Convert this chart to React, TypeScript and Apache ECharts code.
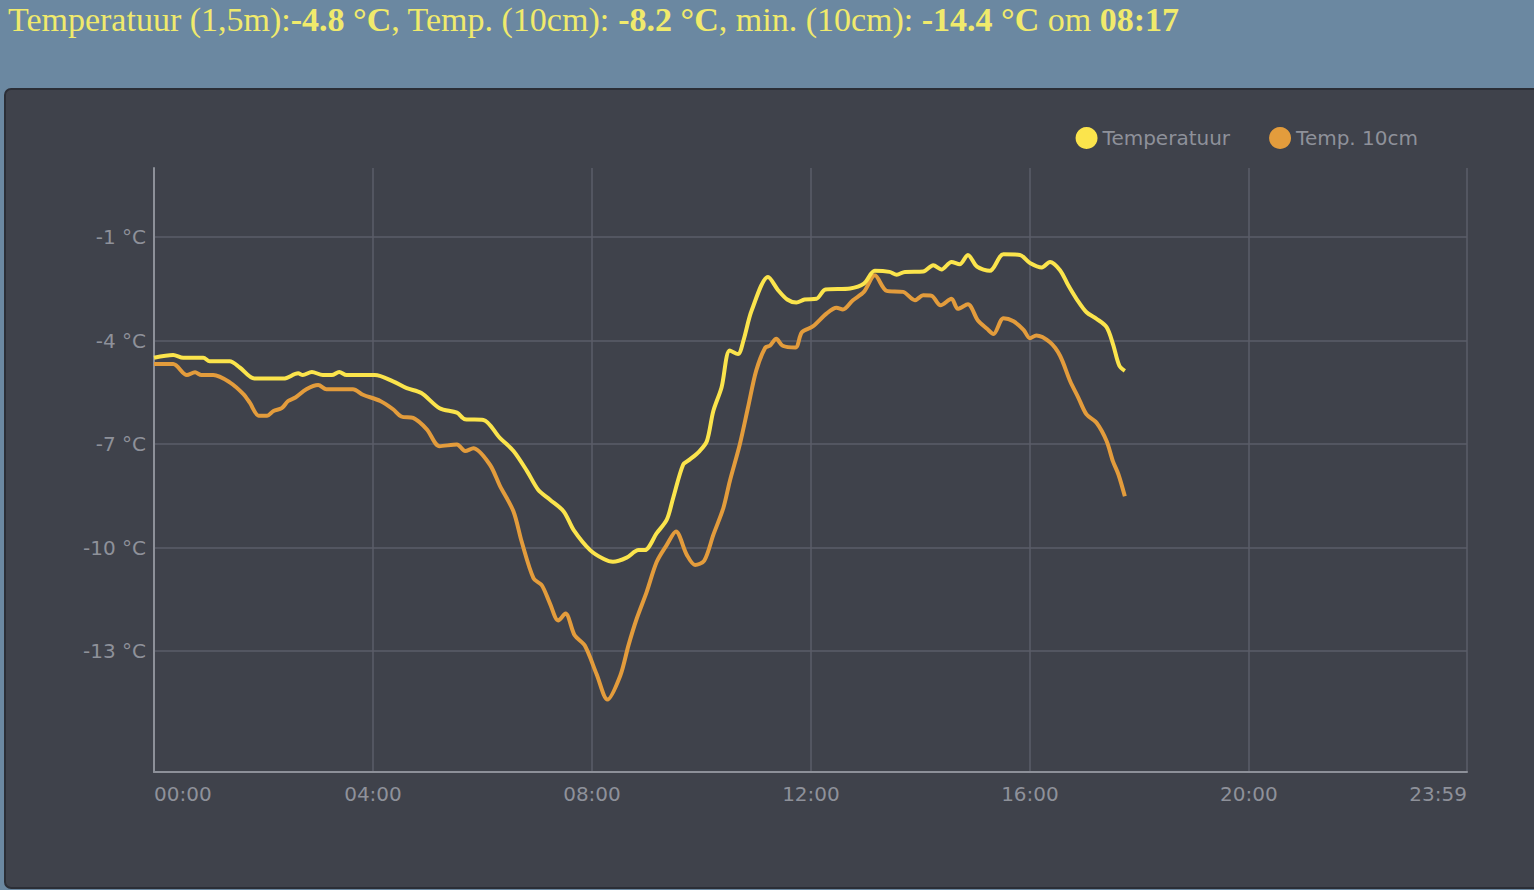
import React, { useEffect, useRef } from "react";
import * as echarts from "echarts";

// ---- data ----
const tempTimes = [
  "00:00","00:21","00:32","00:54","01:01","01:23","01:34","01:50","02:22","02:38","02:43","02:53","03:05","03:15","03:23","03:31",
  "04:02","04:22","04:37","04:53","05:13","05:32","05:41","06:01","06:19","06:34","06:49","07:01","07:14","07:29","07:40","07:58",
  "08:13","08:23","08:38","08:51","08:58","09:11","09:22","09:29","09:40","09:47","09:58","10:06","10:13","10:22","10:31","10:40",
  "10:46","10:55","11:13","11:24","11:34","11:44","11:53","12:06","12:16","12:43","12:58","13:10","13:26","13:34","13:43","14:03",
  "14:14","14:23","14:34","14:43","14:52","15:02","15:16","15:31","15:49","16:00","16:13","16:22","16:33","16:42","16:51","17:02",
  "17:13","17:24","17:31","17:38","17:44",
];
const tempValues = [
  -4.5,-4.42,-4.5,-4.5,-4.6,-4.6,-4.78,-5.1,-5.1,-4.95,-5.0,-4.91,-5.0,-5.0,-4.91,-5.0,
  -5.0,-5.18,-5.38,-5.52,-5.96,-6.09,-6.28,-6.3,-6.82,-7.2,-7.79,-8.32,-8.61,-8.95,-9.49,-10.07,
  -10.33,-10.41,-10.29,-10.07,-10.07,-9.58,-9.19,-8.56,-7.59,-7.45,-7.2,-6.91,-6.04,-5.36,-4.29,-4.39,
  -4.0,-3.13,-2.16,-2.54,-2.81,-2.9,-2.81,-2.79,-2.52,-2.49,-2.35,-1.98,-2.01,-2.09,-2.01,-2.0,
  -1.82,-1.94,-1.72,-1.79,-1.52,-1.86,-1.98,-1.5,-1.52,-1.75,-1.88,-1.72,-1.96,-2.4,-2.79,-3.18,
  -3.37,-3.61,-4.1,-4.73,-4.88,
];

const soilTimes = [
  "00:00","00:21","00:36","00:45","00:52","01:05","01:23","01:38","01:45","01:55","02:04","02:11","02:20","02:27","02:35","02:47",
  "03:00","03:09","03:38","03:49","04:08","04:22","04:31","04:44","04:59","05:13","05:32","05:41","05:50","06:08","06:19","06:34",
  "06:43","06:56","07:05","07:14","07:23","07:31","07:41","07:52","08:05","08:17","08:31","08:40","08:49","09:00","09:11","09:22",
  "09:32","09:44","09:53","10:03","10:13","10:24","10:31","10:42","10:51","11:00","11:10","11:15","11:22","11:29","11:43","11:50",
  "12:02","12:17","12:28","12:35","12:46","12:58","13:10","13:23","13:41","13:54","14:03","14:12","14:22","14:34","14:41","14:52",
  "15:03","15:13","15:20","15:31","15:42","15:53","16:00","16:07","16:22","16:33","16:44","16:53","17:02","17:13","17:24","17:31",
  "17:37","17:44",
];
const soilValues = [
  -4.68,-4.68,-5.0,-4.92,-5.0,-5.0,-5.21,-5.55,-5.8,-6.18,-6.18,-6.04,-5.96,-5.75,-5.65,-5.41,
  -5.29,-5.41,-5.41,-5.57,-5.75,-5.99,-6.2,-6.24,-6.57,-7.06,-7.01,-7.2,-7.12,-7.59,-8.2,-8.95,
  -9.83,-10.89,-11.09,-11.62,-12.11,-11.91,-12.54,-12.83,-13.66,-14.4,-13.71,-12.83,-12.06,-11.28,-10.41,-9.92,
  -9.53,-10.21,-10.5,-10.38,-9.63,-8.85,-8.08,-7.01,-5.94,-4.87,-4.2,-4.15,-3.95,-4.15,-4.2,-3.76,
  -3.59,-3.22,-3.05,-3.1,-2.83,-2.59,-2.11,-2.56,-2.59,-2.83,-2.69,-2.7,-2.98,-2.79,-3.08,-2.95,
  -3.42,-3.66,-3.81,-3.35,-3.44,-3.69,-3.93,-3.85,-4.05,-4.44,-5.17,-5.65,-6.14,-6.38,-6.91,-7.5,
  -7.88,-8.51,
];

const seriesNames = ["Temperatuur", "Temp. 10cm"];
const yTicks = [-13, -10, -7, -4, -1];
const xTickStep = 240; // minutes
const xMax = 1439; // 23:59

const headerTemp = "-4.8";
const headerSoil = "-8.2";
const headerMin = "-14.4";
const headerMinTime = "08:17";

const toMin = (s: string) => {
  const [h, m] = s.split(":").map(Number);
  return h * 60 + m;
};
const fmt = (v: number) => {
  const h = Math.floor(v / 60);
  const m = Math.round(v % 60);
  return String(h).padStart(2, "0") + ":" + String(m).padStart(2, "0");
};

export default function App() {
  const ref = useRef<HTMLDivElement>(null);
  useEffect(() => {
    document.body.style.margin = "0";
    document.body.style.overflow = "hidden";
    const chart = echarts.init(ref.current!, null, { renderer: "svg" });
    const labelColor = "#8e919a";
    const textYellow = "#f0ea6c";
    chart.setOption({
      animation: false,
      backgroundColor: "#6b88a1",
      graphic: [
        {
          type: "rect",
          z: -10,
          shape: { x: 5, y: 89, width: 1545, height: 799, r: 6 },
          style: { fill: "#3f424b", stroke: "#2b2e36", lineWidth: 2 },
        },
        {
          type: "text",
          left: 8,
          top: 2,
          style: {
            text:
              "{n|Temperatuur (1,5m):}{b|" + headerTemp + " °C}{n|, Temp. (10cm): }{b|" + headerSoil +
              " °C}{n|, min. (10cm): }{b|" + headerMin + " °C}{n| om }{b|" + headerMinTime + "}",
            rich: {
              n: { fontFamily: "Liberation Serif", fontSize: 34, fill: textYellow, color: textYellow },
              b: { fontFamily: "Liberation Serif", fontSize: 34, fontWeight: "bold", fill: textYellow, color: textYellow },
            },
          },
        },
      ],
      legend: {
        right: 111,
        top: 122,
        icon: "circle",
        itemWidth: 22,
        itemHeight: 22,
        itemGap: 39,
        data: seriesNames,
        textStyle: { color: labelColor, fontSize: 20, fontFamily: "DejaVu Sans" },
      },
      grid: { left: 154, right: 67, top: 168, bottom: 118 },
      xAxis: {
        type: "value",
        min: 0,
        max: xMax,
        interval: xTickStep,
        axisLine: { show: true, onZero: false, lineStyle: { color: "#8d9099", width: 2 } },
        axisTick: { show: false },
        splitLine: { show: true, lineStyle: { color: "#5b5e69", width: 1.5 } },
        axisLabel: {
          color: labelColor,
          fontSize: 20,
          fontFamily: "DejaVu Sans",
          margin: 12,
          showMinLabel: true,
          showMaxLabel: true,
          alignMinLabel: "left",
          alignMaxLabel: "right",
          formatter: (v: number) => fmt(v),
        },
      },
      yAxis: {
        type: "value",
        min: -16.5,
        max: 1,
        axisLine: { show: true, onZero: false, lineStyle: { color: "#8d9099", width: 2 } },
        axisTick: { show: false, customValues: yTicks },
        splitLine: { show: true, lineStyle: { color: "#5b5e69", width: 1.5 } },
        axisLabel: {
          customValues: yTicks,
          color: labelColor,
          fontSize: 20,
          fontFamily: "DejaVu Sans",
          margin: 8,
          formatter: (v: number) => v + " °C",
        },
      },
      series: [
        {
          name: seriesNames[0],
          type: "line",
          showSymbol: false,
          symbol: "none",
          smooth: 0.3,
          itemStyle: { color: "#fbe44c" },
          lineStyle: { color: "#fbe44c", width: 4 },
          data: tempTimes.map((t, i) => [toMin(t), tempValues[i]]),
          z: 3,
        },
        {
          name: seriesNames[1],
          type: "line",
          showSymbol: false,
          symbol: "none",
          smooth: 0.3,
          itemStyle: { color: "#e39c3c" },
          lineStyle: { color: "#e39c3c", width: 4 },
          data: soilTimes.map((t, i) => [toMin(t), soilValues[i]]),
          z: 2,
        },
      ],
    });
    return () => chart.dispose();
  }, []);
  return <div ref={ref} style={{ width: 1534, height: 890 }} />;
}
